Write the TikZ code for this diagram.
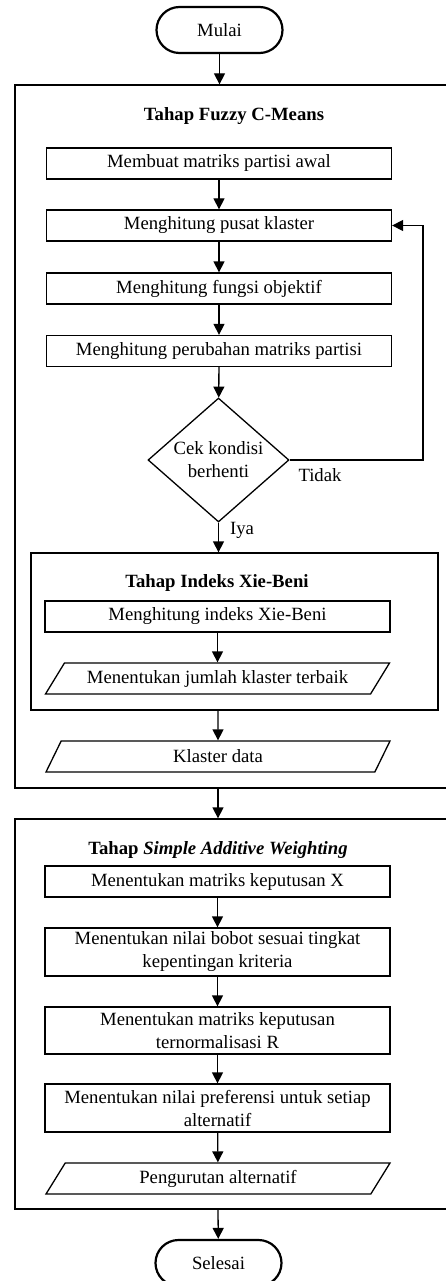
\documentclass[tikz,border=0pt]{standalone}
\usepackage{fontspec}
\setmainfont{Liberation Serif}
\usetikzlibrary{shapes.geometric, arrows.meta}

\tikzset{
	every node/.style={font=\fontsize{18.7}{23}\selectfont},
	startstop/.style={draw, rounded corners=23pt, line width=2.2pt, minimum width=126pt, minimum height=46pt},
	procbox/.style={draw, line width=1.3pt, minimum width=345pt, minimum height=31pt, inner sep=1pt, align=center},
	databox/.style={draw, trapezium, trapezium left angle=45, trapezium right angle=135, trapezium stretches body=true, line width=1.3pt, minimum width=344pt, minimum height=31pt, inner sep=1pt},
	decide/.style={draw, diamond, aspect=1.14, inner sep=0pt, line width=1.3pt, minimum width=141pt, minimum height=124pt, align=center},
	stagebox/.style={draw, line width=1.3pt, inner sep=0pt},
	arr/.style={-{Triangle[length=11pt, width=11pt]}, line width=1.3pt},
}

\begin{document}
\begin{tikzpicture}[x=1pt, y=-1pt]
		\useasboundingbox (0, 0) rectangle (446, 1281);
		\node[startstop] (mulai) at (219.5, 30) {Mulai};

		\node[stagebox, minimum width=436pt, minimum height=703pt] (fcm) at (233, 436.5) {};
		\node (fcmtitle) at (234, 116) {\textbf{Tahap Fuzzy C-Means}};
		\node[procbox] (partisi) at (219, 163.5) {Membuat matriks partisi awal};
		\node[procbox] (pusat) at (219, 225.5) {Menghitung pusat klaster};
		\node[procbox] (fungsi) at (219, 288.5) {Menghitung fungsi objektif};
		\node[procbox] (perubahan) at (219, 351) {Menghitung perubahan matriks partisi};
		\node[decide] (cek) at (218.5, 460) {Cek kondisi\\berhenti};
		\coordinate (balik) at (423, 460);
		\node (tidak) at (320, 475) {Tidak};
		\node (iya) at (242, 530) {Iya};

		\node[stagebox, minimum width=407pt, minimum height=157pt] (xb) at (234.5, 631.5) {};
		\node (xbtitle) at (217, 583) {\textbf{Tahap Indeks Xie-Beni}};
		\node[procbox] (xbidx) at (217.5, 616.5) {Menghitung indeks Xie-Beni};
		\node[databox] (terbaik) at (217.5, 678.5) {Menentukan jumlah klaster terbaik};
		\node[databox] (klaster) at (218, 756.5) {Klaster data};

		\node[stagebox, minimum width=436pt, minimum height=390pt] (saw) at (233, 1014) {};
		\node (sawtitle) at (218, 850) {\textbf{Tahap \textit{Simple Additive Weighting}}};
		\node[procbox] (matx) at (217.5, 881.5) {Menentukan matriks keputusan X};
		\node[procbox, minimum height=48pt] (bobot) at (217.5, 952) {Menentukan nilai bobot sesuai tingkat\\kepentingan kriteria};
		\node[procbox, minimum height=47pt] (normal) at (217.5, 1030.5) {Menentukan matriks keputusan\\ternormalisasi R};
		\node[procbox, minimum height=48pt] (pref) at (217.5, 1108) {Menentukan nilai preferensi untuk setiap\\alternatif};
		\node[databox] (urut) at (218, 1178.5) {Pengurutan alternatif};
		\node[startstop] (selesai) at (218.5, 1263) {Selesai};

		\draw[arr] (mulai) -- (mulai |- fcm.north);
		\draw[arr] (partisi) -- (pusat);
		\draw[arr] (pusat) -- (fungsi);
		\draw[arr] (fungsi) -- (perubahan);
		\draw[arr] (perubahan) -- (cek);
		\draw[arr] (cek.east) -- (balik) |- (pusat.east);
		\draw[arr] (cek) -- (cek |- xb.north);
		\draw[arr] (xbidx) -- (terbaik);
		\draw[arr] (klaster |- xb.south) -- (klaster);
		\draw[arr] (klaster |- fcm.south) -- (klaster |- saw.north);
		\draw[arr] (matx) -- (bobot);
		\draw[arr] (bobot) -- (normal);
		\draw[arr] (normal) -- (pref);
		\draw[arr] (pref) -- (urut);
		\draw[arr] (urut |- saw.south) -- (selesai);
	\end{tikzpicture}
\end{document}
